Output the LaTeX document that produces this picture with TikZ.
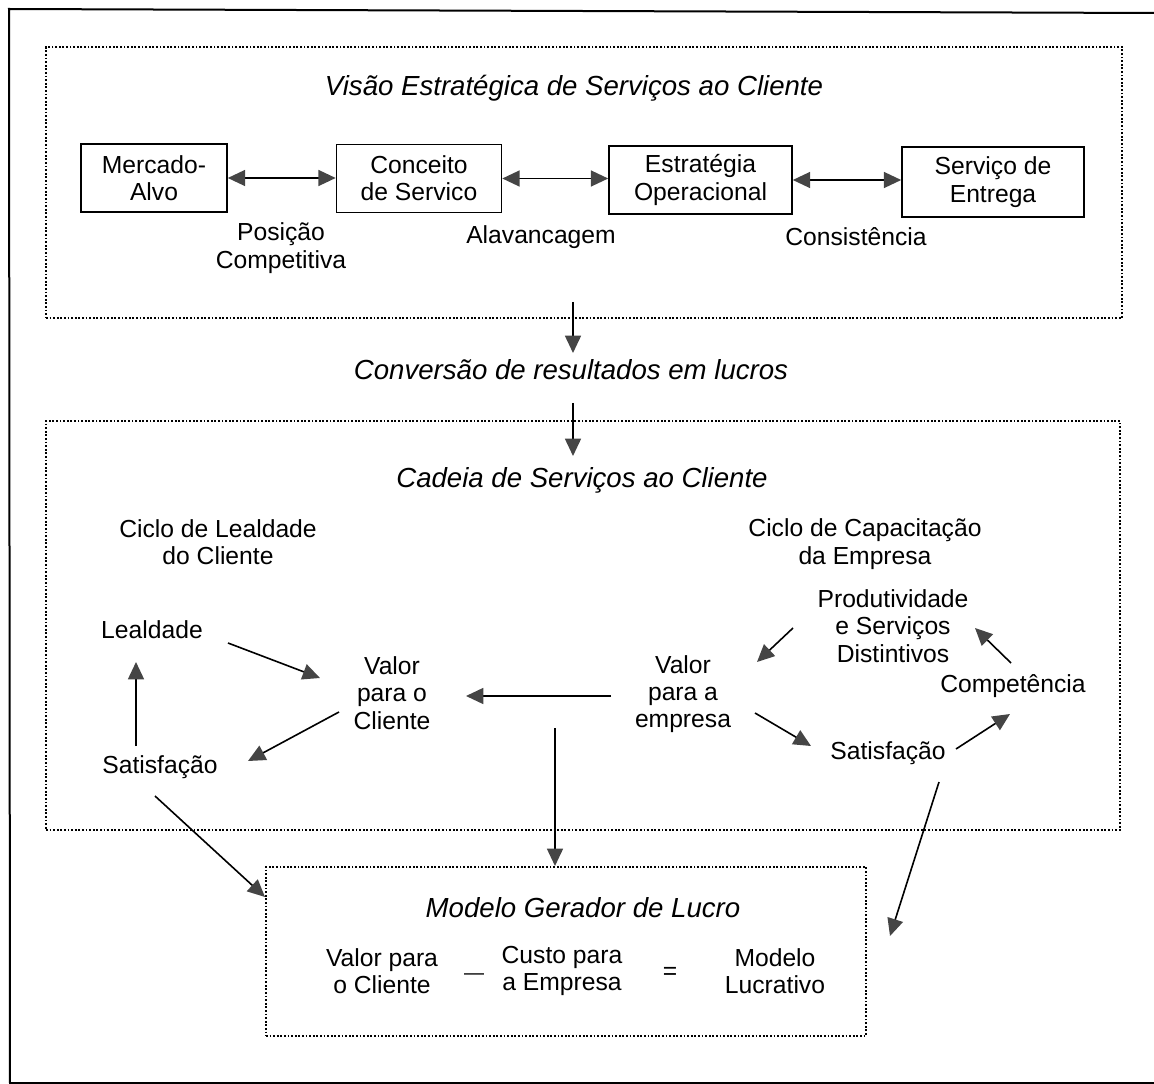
\documentclass[tikz,border=0pt]{standalone}
\usepackage{fontspec}
\setmainfont{Liberation Sans}
\usetikzlibrary{arrows.meta}
\definecolor{tipgray}{HTML}{454545}
\newcommand\bodyfont{\fontsize{18.5}{20.5}\selectfont}
\newcommand\ttlfont{\fontsize{20.7}{24}\selectfont\itshape}
\begin{document}
\begin{tikzpicture}[x=0.75pt,y=-0.75pt,
  txt/.style={font=\bodyfont, align=center, inner sep=0pt},
  ttl/.style={font=\ttlfont, inner sep=0pt},
  sbox/.style={draw, line width=1.2pt, font=\bodyfont, align=center, inner sep=0pt},
  dbox/.style={draw, line width=1.5pt, dash pattern=on 1.3pt off 1.4pt, inner sep=0pt},
  arr/.style={line width=1.2pt, -{Triangle[length=13pt,width=12pt,color=tipgray]}},
  darr/.style={line width=1.2pt, {Triangle[length=13pt,width=12pt,color=tipgray]}-{Triangle[length=13pt,width=12pt,color=tipgray]}},
  frame/.style={line width=1.5pt}
]
\useasboundingbox (0,0) rectangle (1154,1084);
% outer frame (scan)
\draw[frame] (1154,13) -- (9,9) -- (10,1083) -- (1154,1083);

% ---------- top box ----------
\node[dbox, minimum width=807pt, minimum height=203.25pt] (box1) at (584,182.5) {};
\node[ttl] (t1) at (574,88) {Visão Estratégica de Serviços ao Cliente};
\node[sbox, minimum width=109.5pt, minimum height=51pt] (m1) at (154,178) {Mercado-\\Alvo};
\node[sbox, minimum width=123.75pt, minimum height=51pt] (m2) at (419,178.5) {Conceito\\de Servico};
\node[sbox, minimum width=137.25pt, minimum height=51pt] (m3) at (700.5,180) {Estratégia\\Operacional};
\node[sbox, minimum width=136.5pt, minimum height=52.5pt] (m4) at (993,182) {Serviço de\\Entrega};
\draw[darr] (m1.east) -- (m1.east -| m2.west);
\draw[darr] (m2.east) -- (m2.east -| m3.west);
\draw[darr] (m3.east) -- (m3.east -| m4.west);
\node[txt] (l1) at (281,248) {Posição\\Competitiva};
\node[txt] (l2) at (541,237) {Alavancagem};
\node[txt] (l3) at (856,237) {Consistência};

% ---------- conversion ----------
\coordinate (a1) at (573,302);
\coordinate (a1e) at (573,353);
\node[ttl] (conv) at (571,370) {Conversão de resultados em lucros};
\coordinate (a2) at (573,403);
\coordinate (a2e) at (573,456);
\draw[arr] (a1) -- (a1e);
\draw[arr] (a2) -- (a2e);

% ---------- middle box ----------
\node[dbox, minimum width=805.5pt, minimum height=306.75pt] (box2) at (583,625.5) {};
\node[ttl] (t2) at (582,480) {Cadeia de Serviços ao Cliente};
\node[txt] (c1) at (218,542) {Ciclo de Lealdade\\do Cliente};
\node[txt] (c2) at (865,544) {Ciclo de Capacitação\\da Empresa};
\node[txt] (prod) at (893,626) {Produtividade\\e Serviços\\Distintivos};
\node[txt] (leal) at (152,630) {Lealdade};
\node[txt] (vcli) at (392,693) {Valor\\para o\\Cliente};
\node[txt] (vemp) at (683,694) {Valor\\para a\\empresa};
\node[txt] (comp) at (1013,686) {Competência};
\node[txt] (sat1) at (160,767) {Satisfação};
\node[txt] (sat2) at (888,753) {Satisfação};

% left cycle
\draw[arr] ([shift={(76,13)}]leal.center) -- ([shift={(-72,-15)}]vcli.center);
\draw[arr] ([shift={(-53,19)}]vcli.center) -- ([shift={(88,-6)}]sat1.center);
\draw[arr] ([shift={(-24,-21)}]sat1.center) -- ([shift={(-16,32)}]leal.center);
% between cycles
\draw[arr] ([shift={(-72,2)}]vemp.center) -- ([shift={(74,3)}]vcli.center);
% right cycle
\draw[arr] ([shift={(-100,2)}]prod.center) -- ([shift={(74,-32)}]vemp.center);
\draw[arr] ([shift={(72,19)}]vemp.center) -- ([shift={(-77,-7)}]sat2.center);
\draw[arr] ([shift={(68,-4)}]sat2.center) -- ([shift={(-3,28)}]comp.center);
\draw[arr] ([shift={(-2,-23)}]comp.center) -- ([shift={(82,2)}]prod.center);

% ---------- bottom box ----------
\node[dbox, minimum width=450pt, minimum height=126.75pt] (box3) at (566,951.5) {};
\node[ttl] (t3) at (583,908) {Modelo Gerador de Lucro};
\node[txt] (vpc) at (382,971) {Valor para\\o Cliente};
\node[font=\fontsize{15}{15}\selectfont, inner sep=0pt] (minus) at (474,977) {—};
\node[txt] (cpe) at (562,971) {Custo para\\a Empresa};
\node[txt] (eq) at (670,973) {=};
\node[txt] (ml) at (775,971) {Modelo\\Lucrativo};

\coordinate (vs) at (555,728);
\draw[arr] (vs) -- (vs |- box3.north);
\draw[arr] ([shift={(-5,29)}]sat1.center) -- ([shift={(0,-54.5)}]box3.west);
\coordinate (rtip) at (890,936);
\draw[arr] ([shift={(51,29)}]sat2.center) -- (rtip);
\end{tikzpicture}
\end{document}
